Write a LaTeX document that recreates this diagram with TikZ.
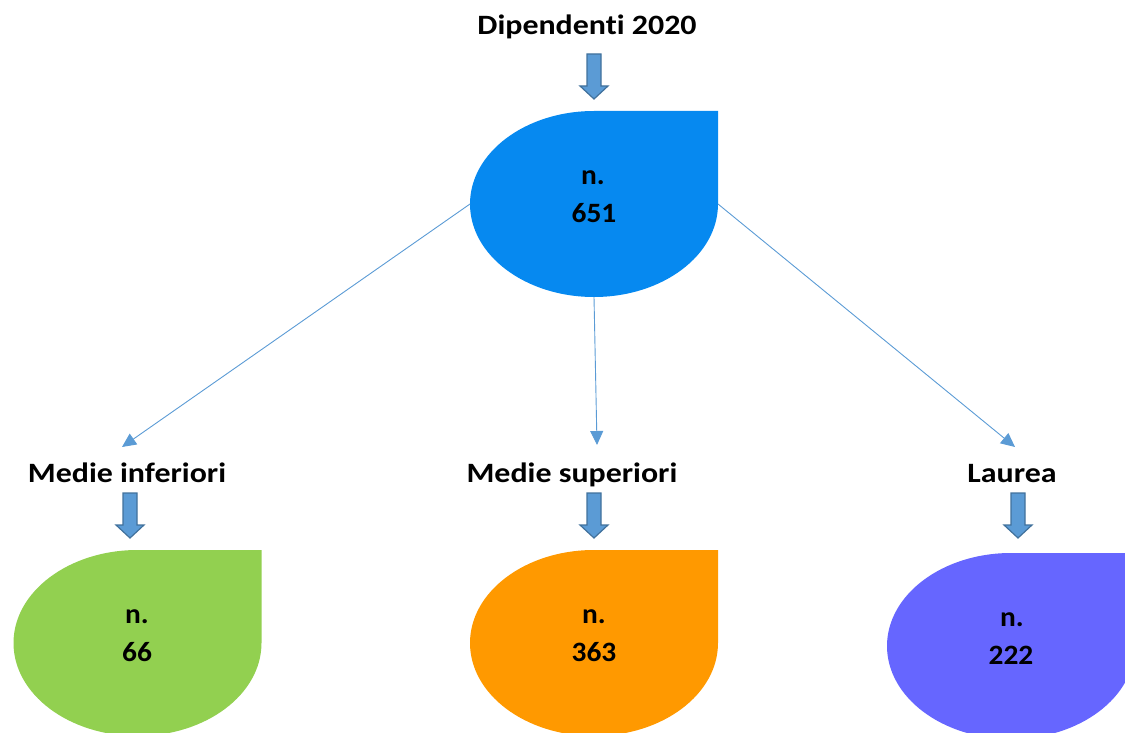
\documentclass[tikz,border=0pt]{standalone}
\usepackage{fontspec}
\setmainfont[Ligatures=NoCommon]{Carlito}
\usetikzlibrary{arrows.meta}
\definecolor{topblue}{HTML}{0689F0}
\definecolor{dropgreen}{HTML}{92D050}
\definecolor{droporange}{HTML}{FF9900}
\definecolor{droppurple}{HTML}{6666FF}
\definecolor{arrfill}{HTML}{5B9BD5}
\definecolor{arrdraw}{HTML}{41719C}
\definecolor{conn}{HTML}{5B9BD5}
\newcommand\wide[1]{\scalebox{1.14}[1]{#1}}
\newcommand\widev[1]{\scalebox{1.05}[1]{#1}}
\newcommand\teardrop[3]{%
  \fill[#3] (#1-124,#2) arc[start angle=180,end angle=90,x radius=124pt,y radius=93pt]
    -- ++(124,0) -- ++(0,93)
    arc[start angle=0,end angle=-180,x radius=124pt,y radius=93pt] -- cycle;}
\newcommand\blockarrow[2]{%
  \draw[blockarr] (#1-7,#2) -- (#1+7,#2) -- (#1+7,#2+32) -- (#1+14,#2+32)
    -- (#1,#2+45) -- (#1-14,#2+32) -- (#1-7,#2+32) -- cycle;}
\begin{document}
\begin{tikzpicture}[x=1pt,y=-1pt,
  blockarr/.style={fill=arrfill,draw=arrdraw,line width=1.2pt,line join=miter},
  connector/.style={draw=conn,line width=0.9pt,-{Triangle[length=14pt,width=13pt]}},
  lbl/.style={font=\bfseries\fontsize{28}{32}\selectfont,inner sep=0pt,anchor=base},
  val/.style={font=\bfseries\fontsize{28}{32}\selectfont,inner sep=0pt}]
\useasboundingbox (0,0) rectangle (1125,733);
% shapes
\teardrop{594}{204}{topblue}
\teardrop{137.5}{643}{dropgreen}
\teardrop{594}{643}{droporange}
\teardrop{1011}{646}{droppurple}
% anchor coordinates
\coordinate (topL) at (470,204);
\coordinate (topB) at (594,297);
\coordinate (topR) at (718,204);
\coordinate (endL) at (122,447);
\coordinate (endM) at (597,445);
\coordinate (endR) at (1015,447);
% block arrows
\blockarrow{594}{54}
\blockarrow{130}{493}
\blockarrow{594}{493}
\blockarrow{1018}{493}
% labels
\node[lbl] (title) at (587,35) {\wide{Dipendenti 2020}};
\node[lbl] (lblL) at (127,482) {\wide{Medie inferiori}};
\node[lbl] (lblM) at (572,482) {\wide{Medie superiori}};
\node[lbl] (lblR) at (1012,482) {\wide{Laurea}};
% values
\node[val] (n0) at (593,178) {\widev{n.}};
\node[val] (v0) at (594,213) {\widev{651}};
\node[val] (n1) at (137,617) {\widev{n.}};
\node[val] (v1) at (137,652) {\widev{66}};
\node[val] (n2) at (594,617) {\widev{n.}};
\node[val] (v2) at (594,652) {\widev{363}};
\node[val] (n3) at (1012,620) {\widev{n.}};
\node[val] (v3) at (1011,655) {\widev{222}};
% connectors
\draw[connector] (topL) -- (endL);
\draw[connector] (topB) -- (endM);
\draw[connector] (topR) -- (endR);
\end{tikzpicture}
\end{document}
